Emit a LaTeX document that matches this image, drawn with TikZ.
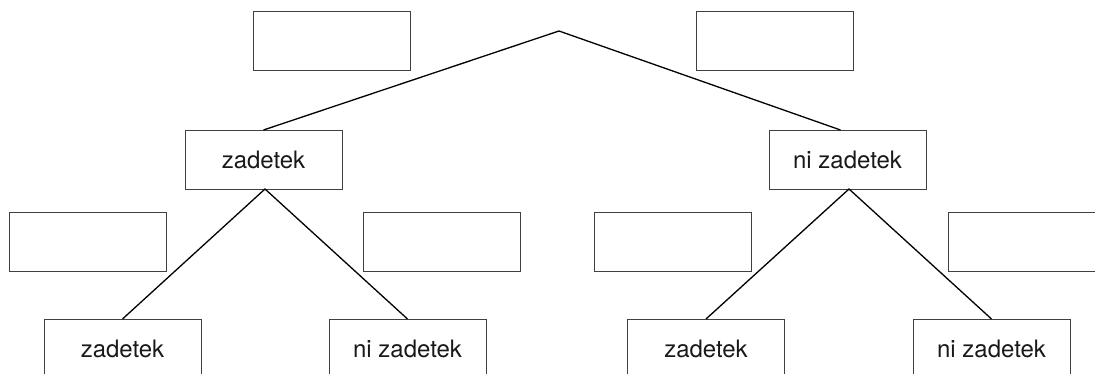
\documentclass[tikz,border=0pt]{standalone}
\usepackage{fontspec}
\setmainfont{TeX Gyre Heros}
\begin{document}
\begin{tikzpicture}[x=1pt,y=-1pt,
  box/.style={draw=black!75,line width=0.8pt,minimum width=157pt,minimum height=59pt,inner sep=0pt,outer sep=0pt,font=\fontsize{24}{29}\selectfont,text=black!90},
  conn/.style={line width=1.3pt,black}]
\clip (0,0) rectangle (1095,374);
\useasboundingbox (0,0) rectangle (1095,374);
\coordinate (apex) at (559,31);
\node[box] (e1) at (332,41) {};
\node[box] (e2) at (774.5,41) {};
\node[box] (a) at (263.5,159.5) {zadetek};
\node[box] (b) at (847.5,159.5) {ni zadetek};
\node[box] (e3) at (88,241.5) {};
\node[box] (e4) at (442,241.5) {};
\node[box] (e5) at (673,241.5) {};
\node[box] (e6) at (1027,241.5) {};
\node[box,minimum height=60pt] (aa) at (122.5,349) {zadetek};
\node[box,minimum height=60pt] (ab) at (407.5,349) {ni zadetek};
\node[box,minimum height=60pt] (ba) at (706,349) {zadetek};
\node[box,minimum height=60pt] (bb) at (991.5,349) {ni zadetek};
\draw[conn] (a.north) -- (apex) -- ([xshift=-7pt]b.north);
\draw[conn] (aa.north) -- ([xshift=1.5pt]a.south) -- (ab.north);
\draw[conn] (ba.north) -- ([xshift=1.5pt]b.south) -- (bb.north);
\end{tikzpicture}
\end{document}
